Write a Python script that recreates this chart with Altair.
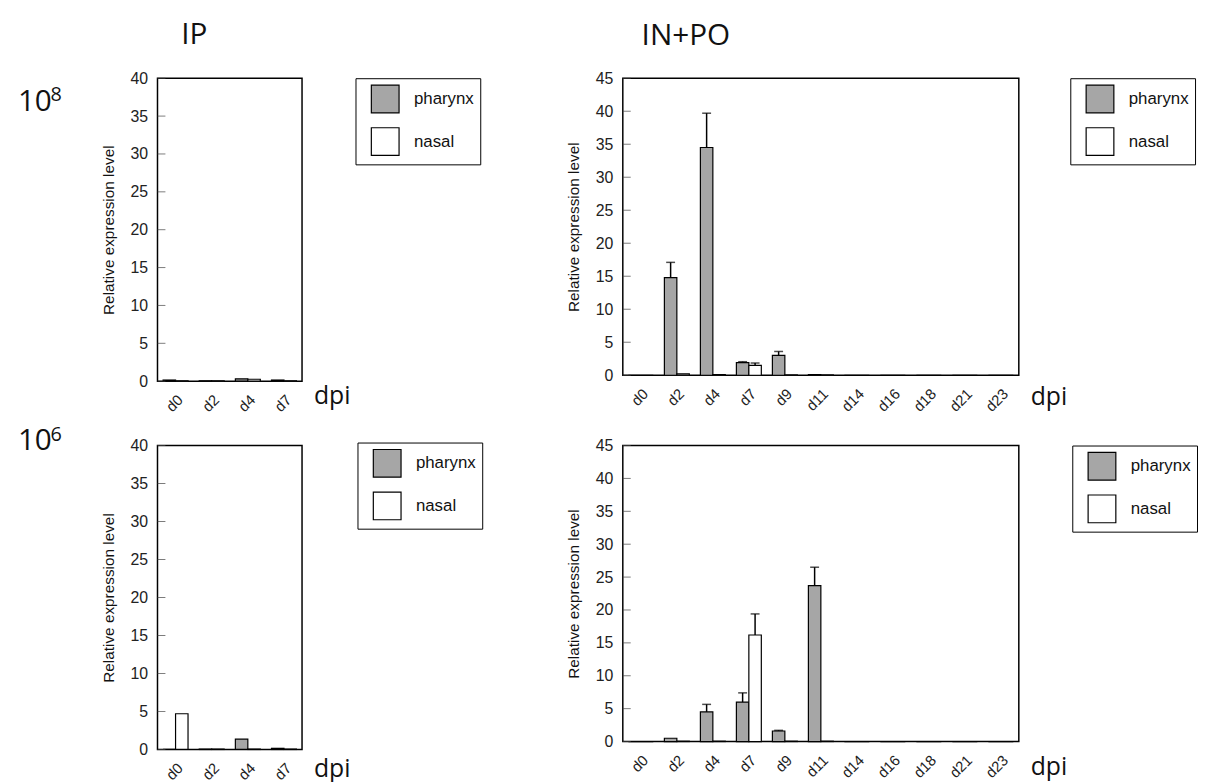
import altair as alt
import pandas as pd

ip_days = ["d0", "d2", "d4", "d7"]
inpo_days = ["d0", "d2", "d4", "d7", "d9", "d11", "d14", "d16", "d18", "d21", "d23"]
tissues = ["pharynx", "nasal"]
col_titles = ["IP", "IN+PO"]
row_bases = ["10", "10"]
row_exps = ["8", "6"]
x_name = "dpi"
y_name = "Relative expression level"

# 10^8, IP
tl_ph = [0.15, 0.05, 0.3, 0.15]
tl_ph_err = [0, 0, 0, 0]
tl_na = [0.05, 0.05, 0.25, 0.05]
tl_na_err = [0, 0, 0, 0]

# 10^8, IN+PO
tr_ph = [0, 14.8, 34.5, 1.9, 3.0, 0.1, 0, 0, 0, 0, 0]
tr_ph_err = [0, 2.3, 5.2, 0.15, 0.6, 0, 0, 0, 0, 0, 0]
tr_na = [0, 0.2, 0.1, 1.5, 0.05, 0.05, 0, 0, 0, 0, 0]
tr_na_err = [0, 0, 0, 0.35, 0, 0, 0, 0, 0, 0, 0]

# 10^6, IP
bl_ph = [0, 0.05, 1.35, 0.15]
bl_ph_err = [0, 0, 0, 0]
bl_na = [4.7, 0.05, 0.05, 0.05]
bl_na_err = [0, 0, 0, 0]

# 10^6, IN+PO
br_ph = [0, 0.5, 4.5, 6.0, 1.6, 23.7, 0, 0, 0, 0, 0]
br_ph_err = [0, 0, 1.15, 1.4, 0.1, 2.8, 0, 0, 0, 0, 0]
br_na = [0, 0.05, 0.05, 16.2, 0.05, 0.05, 0, 0, 0, 0, 0]
br_na_err = [0, 0, 0, 3.2, 0, 0, 0, 0, 0, 0, 0]

ticks40 = [0, 5, 10, 15, 20, 25, 30, 35, 40]
ticks45 = [0, 5, 10, 15, 20, 25, 30, 35, 40, 45]

GRAY = "#a6a6a6"
TICK_FONT = "Liberation Sans, Arial, sans-serif"
TITLE_FONT = "Open Sans, Lato, sans-serif"


def make_df(days, ph, ph_err, na, na_err):
    rows = []
    for i, d in enumerate(days):
        rows.append(dict(day=d, tissue="pharynx", value=ph[i], err=ph_err[i]))
        rows.append(dict(day=d, tissue="nasal", value=na[i], err=na_err[i]))
    df = pd.DataFrame(rows)
    df["upper"] = df["value"] + df["err"]
    return df


def text_layer(txt, x, y, size, font=TITLE_FONT, align="left", baseline="alphabetic"):
    return alt.Chart(pd.DataFrame({"t": [txt]})).mark_text(
        font=font, fontSize=size, align=align, baseline=baseline, color="#111"
    ).encode(text="t:N", x=alt.value(x), y=alt.value(y))


def panel(df, days, ymax, yticks, w, h, lx, ly, dpi_y, extras):
    pin = 0.31
    xsc = alt.Scale(domain=days, paddingInner=pin, paddingOuter=pin / 2)
    ysc = alt.Scale(domain=[0, ymax], nice=False, zero=True)
    xax = alt.Axis(labelAngle=-45, ticks=False, domain=False,
                   labelFontSize=15, labelFont=TICK_FONT, labelColor="#222",
                   labelPadding=11)
    yax = alt.Axis(values=yticks, title=y_name, ticks=False, domain=False, grid=False,
                   labelOverlap=False, labelFlush=False,
                   labelFontSize=16, labelFont=TICK_FONT, labelColor="#222",
                   labelPadding=10, titleFont=TICK_FONT, titleFontSize=15.5,
                   titleFontWeight="normal", titleColor="#111", titlePadding=14)
    x = alt.X("day:N", sort=days, title=None, scale=xsc, axis=xax)
    xo = alt.XOffset("tissue:N", sort=tissues,
                     scale=alt.Scale(domain=tissues, paddingInner=0, paddingOuter=0))
    color = alt.Color("tissue:N", sort=tissues,
                      scale=alt.Scale(domain=tissues, range=[GRAY, "#ffffff"]),
                      legend=alt.Legend(title=None, orient="none", legendX=lx, legendY=ly,
                                        strokeColor="black", fillColor="white", padding=6,
                                        rowPadding=9, symbolOffset=9, labelOffset=14,
                                        symbolType="square", symbolSize=784,
                                        symbolStrokeColor="black", symbolStrokeWidth=1.2,
                                        labelFontSize=17, labelFont=TICK_FONT, labelColor="#111"))
    bars = alt.Chart(df).mark_bar(stroke="black", strokeWidth=1.2).encode(
        x=x, xOffset=xo, y=alt.Y("value:Q", scale=ysc, axis=yax, title=y_name), color=color)
    errs = alt.Chart(df).transform_filter("datum.err > 0")
    rule = errs.mark_rule(color="black", strokeWidth=1.5).encode(
        x=x, xOffset=xo, y=alt.Y("value:Q", scale=ysc, axis=yax, title=y_name), y2="upper:Q")
    cap = errs.mark_tick(color="black", thickness=1.5, size=9, orient="horizontal").encode(
        x=x, xOffset=xo, y=alt.Y("upper:Q", scale=ysc, axis=yax, title=y_name))
    inticks = alt.Chart(pd.DataFrame({"v": yticks})).mark_tick(
        orient="horizontal", size=8, thickness=1, color="#444").encode(
        y=alt.Y("v:Q", scale=ysc, axis=yax, title=y_name), x=alt.value(4))
    dpi = text_layer(x_name, w + 12, dpi_y, 25, baseline="top")
    layers = [bars, rule, cap, inticks, dpi] + extras
    return alt.layer(*layers).properties(width=w, height=h)


tl = panel(make_df(ip_days, tl_ph, tl_ph_err, tl_na, tl_na_err), ip_days, 40, ticks40,
           146, 306, 200, 0, 309,
           [text_layer(col_titles[0], 24, -35, 30),
            text_layer(row_bases[0], -141, 33, 30),
            text_layer(row_exps[0], -108, 23, 20)])
tr = panel(make_df(inpo_days, tr_ph, tr_ph_err, tr_na, tr_na_err), inpo_days, 45, ticks45,
           400, 300, 452, 0, 310,
           [text_layer(col_titles[1], 19, -34, 30)])
bl = panel(make_df(ip_days, bl_ph, bl_ph_err, bl_na, bl_na_err), ip_days, 40, ticks40,
           146, 307, 202, -3, 315,
           [text_layer(row_bases[1], -141, 5, 30),
            text_layer(row_exps[1], -108, -5, 20)])
br = panel(make_df(inpo_days, br_ph, br_ph_err, br_na, br_na_err), inpo_days, 45, ticks45,
           400, 299, 454, 0, 313, [])

chart = alt.concat(tl, tr, bl, br, columns=2, spacing={"row": 65, "column": 324},
                   bounds="flush").resolve_scale(
    color="independent", x="independent", y="independent"
).resolve_legend(color="independent").properties(
    padding={"left": 9, "top": 7, "right": 0, "bottom": 0}, background="white"
).configure_view(stroke="black", strokeWidth=1.5)

chart.save("out.html", embed_options={"renderer": "svg", "actions": False})
